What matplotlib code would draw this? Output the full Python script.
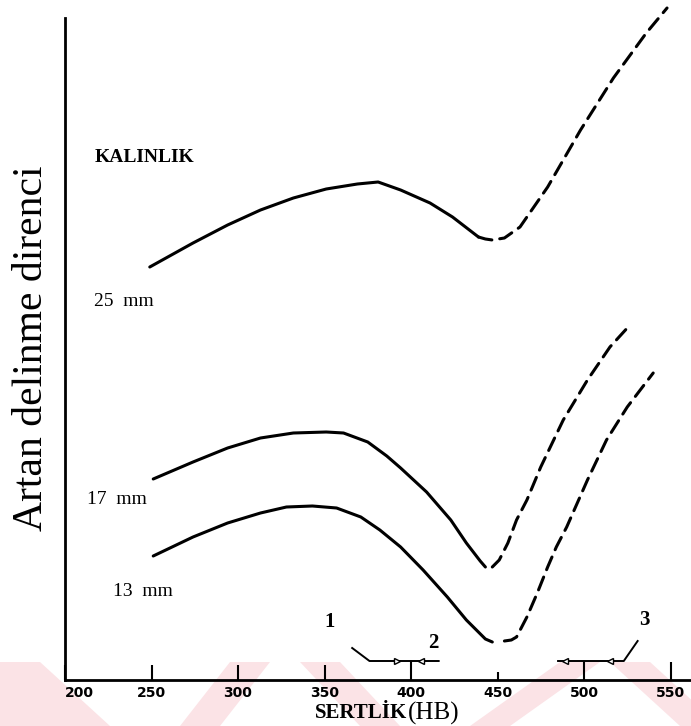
import matplotlib.pyplot as plt
from matplotlib.patches import Polygon

# Hardness axis (Brinell)
hb_ticks = [200, 250, 300, 350, 400, 450, 500, 550]
hb_labels = ['200', '250', '300', '350', '400', '450', '500', '550']

# 25 mm plate: measured part (solid) and extrapolated part (dashed)
t25_hb = [249, 274, 294, 313, 332, 351, 369, 381, 394, 411, 424, 439]
t25_res = [413, 437, 455, 470, 482, 491, 496, 498, 490, 477, 463, 443]
t25_ext_hb = [439, 443, 447, 454, 463, 479, 498, 517, 536, 548]
t25_ext_res = [443, 441, 440, 442, 453, 493, 550, 602, 647, 672]

# 17 mm plate
t17_hb = [251, 274, 294, 313, 332, 351, 361, 375, 386, 394, 409, 423, 432, 440, 443]
t17_res = [201, 218, 232, 242, 247, 248, 247, 238, 224, 212, 188, 160, 137, 119, 113]
t17_ext_hb = [447, 451, 456, 461, 467, 475, 488, 502, 515, 525]
t17_ext_res = [113, 120, 137, 160, 180, 213, 260, 300, 333, 352]

# 13 mm plate
t13_hb = [251, 274, 294, 313, 328, 343, 357, 371, 382, 394, 407, 421, 432, 443, 447]
t13_res = [124, 143, 157, 167, 173, 174, 172, 163, 150, 133, 110, 83, 60, 41, 38]
t13_ext_hb = [454, 458, 461, 467, 473, 479, 484, 490, 502, 513, 525, 540]
t13_ext_res = [39, 40, 43, 63, 87, 113, 133, 153, 200, 240, 273, 307]

fig = plt.figure(figsize=(6.91, 7.26), dpi=100)

# faint pink chevrons along the bottom edge (pixel coordinates)
W, H = 691, 726
bands = [(-40, 0, 40, 110), (230, 180, 270, 220), (300, 360, 340, 400),
         (560, 470, 600, 510), (610, 680, 650, 720)]
for xt0, xb0, xt1, xb1 in bands:
    pts = [(xt0 / W, 64 / H), (xt1 / W, 64 / H), (xb1 / W, 0), (xb0 / W, 0)]
    fig.add_artist(Polygon(pts, closed=True, transform=fig.transFigure,
                           facecolor='#fbe3e6', edgecolor='none', zorder=0))

ax = fig.add_axes([65 / W, 46 / H, 626 / W, 680 / H])
ax.patch.set_alpha(0)
ax.set_xlim(200, 200 + 626 / 1.73)
ax.set_ylim(0, 680)

line = dict(color='black', lw=2.2, solid_capstyle='round', dash_capstyle='round',
            solid_joinstyle='round')
dash = (0, (4.5, 2.6))
ax.plot(t25_hb, t25_res, **line)
ax.plot(t25_ext_hb, t25_ext_res, ls=dash, clip_on=False, **line)
ax.plot(t17_hb, t17_res, **line)
ax.plot(t17_ext_hb, t17_ext_res, ls=dash, **line)
ax.plot(t13_hb, t13_res, **line)
ax.plot(t13_ext_hb, t13_ext_res, ls=dash, **line)

serif = 'Liberation Serif'
ax.text(217, 523, 'KALINLIK', family=serif, fontweight='bold', fontsize=14,
        va='center', ha='left')
ax.text(217, 378, '25  mm', family=serif, fontsize=14, va='center', ha='left')
ax.text(213, 180, '17  mm', family=serif, fontsize=14, va='center', ha='left')
ax.text(228, 88, '13  mm', family=serif, fontsize=14, va='center', ha='left')

# hardness ranges 1, 2 and 3 marked above the axis
ax.plot([366, 376, 416], [32, 19, 19], color='black', lw=1.4)
ax.plot([392], [19], marker='>', ms=5, mfc='white', mec='black', mew=1)
ax.plot([406], [19], marker='<', ms=5, mfc='white', mec='black', mew=1)
ax.plot([485, 523, 531], [19, 19, 39], color='black', lw=1.4)
ax.plot([489], [19], marker='<', ms=5, mfc='white', mec='black', mew=1)
ax.plot([515], [19], marker='<', ms=5, mfc='white', mec='black', mew=1)
for s, x, y in [('1', 353, 58), ('2', 413, 37), ('3', 535, 60)]:
    ax.text(x, y, s, family=serif, fontweight='bold', fontsize=15,
            ha='center', va='center')

# axes frame
for side in ['top', 'right']:
    ax.spines[side].set_visible(False)
ax.spines['left'].set_linewidth(2)
ax.spines['bottom'].set_linewidth(2)
ax.spines['left'].set_bounds(0, 662)
ax.set_yticks([])
ax.set_xticks(hb_ticks)
ax.set_xticklabels(hb_labels, family='DejaVu Sans', fontweight='bold',
                   fontsize=10)
ax.tick_params(axis='x', direction='in', length=11, width=1.5, pad=4)
ticks = ax.xaxis.get_major_ticks()
ticks[0].label1.set_horizontalalignment('left')
ticks[4].tick1line.set_markersize(14)
ticks[5].tick1line.set_markersize(6)
ticks[6].tick1line.set_markersize(14)
ticks[7].tick1line.set_markersize(13)

ax.set_ylabel('Artan delinme direnci', family=serif, fontsize=30)
ax.yaxis.set_label_coords(-0.022, 0.488)

ax.text(398, -33, 'SERTLİK', family=serif, fontweight='bold', fontsize=15,
        ha='right', va='center')
ax.text(398, -33, '(HB)', family=serif, fontsize=18, ha='left', va='center')

fig.savefig('out.png', dpi=100)
